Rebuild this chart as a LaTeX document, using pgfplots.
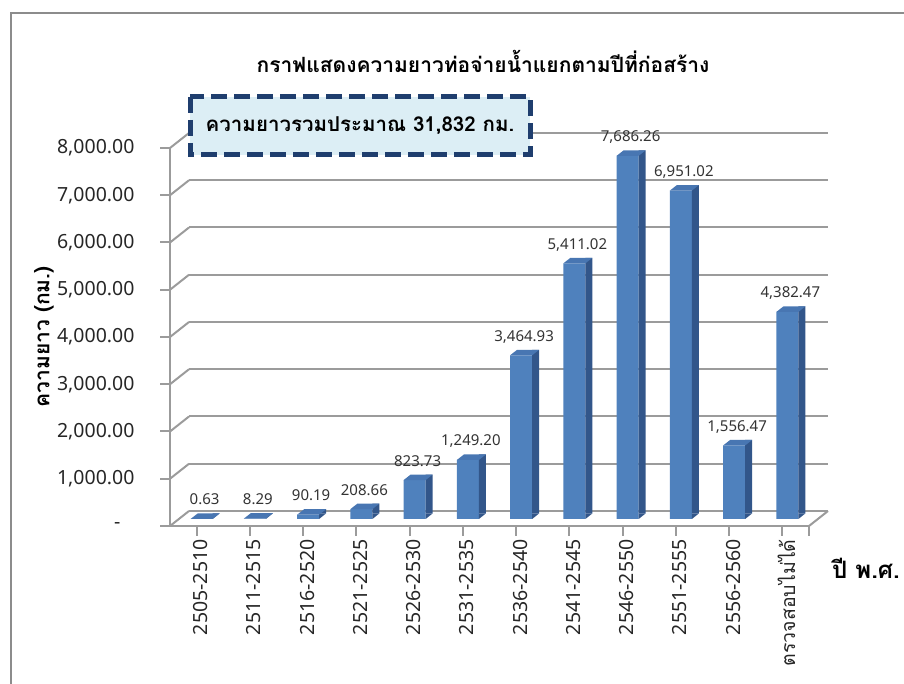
\documentclass[border=0pt]{standalone}
\usepackage{pgfplots}
\pgfplotsset{compat=1.18}
\usepackage{pgfplotstable}
\usepackage{fontspec}
\setmainfont{Noto Sans}
\newfontfamily\thai[Script=Thai]{Loma}
\definecolor{barfront}{RGB}{79,129,189}
\definecolor{barside}{RGB}{50,86,138}
\definecolor{bartop}{RGB}{72,118,178}
\definecolor{gridgray}{RGB}{155,155,155}
\definecolor{framegray}{RGB}{140,140,140}
\definecolor{boxfill}{RGB}{220,238,245}
\definecolor{boxdraw}{RGB}{31,62,110}
\pgfdeclareplotmark{bartopmark}{%
 \pgfpathmoveto{\pgfpoint{-11pt}{0pt}}\pgfpathlineto{\pgfpoint{11pt}{0pt}}%
 \pgfpathlineto{\pgfpoint{18pt}{5.5pt}}\pgfpathlineto{\pgfpoint{-4pt}{5.5pt}}%
 \pgfpathclose\pgfusepathqfill}
\pgfdeclareplotmark{barbasemark}{%
 \pgfpathmoveto{\pgfpoint{11pt}{0pt}}\pgfpathlineto{\pgfpoint{11pt}{5.6pt}}%
 \pgfpathlineto{\pgfpoint{18pt}{5.6pt}}\pgfpathclose\pgfusepathqfill}
\pgfplotstableread{
x y label
0 0.63 0.63
1 8.29 8.29
2 90.19 90.19
3 208.66 208.66
4 823.73 823.73
5 1249.20 1,249.20
6 3464.93 3,464.93
7 5411.02 5,411.02
8 7686.26 7,686.26
9 6951.02 6,951.02
10 1556.47 1,556.47
11 4382.47 4,382.47
}\datatable
\begin{document}
\begin{tikzpicture}
\path[use as bounding box] (0,0) rectangle (904pt,684pt);
\draw[framegray, line width=2pt] (11pt,0pt) -- (11pt,671pt) -- (904pt,671pt);
\begin{axis}[
 at={(170pt,158pt)}, anchor=south west,
 scale only axis, width=639pt, height=378pt,
 xmin=-0.5, xmax=11.5, ymin=0, ymax=8000,
 clip=false,
 axis lines=left,
 axis line style={-, draw=gridgray, line width=2pt},
 tick align=outside, major tick length=10pt,
 tick style={draw=gridgray, line width=2pt},
 ytick={0,1000,...,8000},
 yticklabels={{-\rule{14pt}{0pt}},{1,000.00},{2,000.00},{3,000.00},{4,000.00},{5,000.00},{6,000.00},{7,000.00},{8,000.00}},
 xtick={0,...,11},
 xticklabels={2505-2510,2511-2515,2516-2520,2521-2525,2526-2530,2531-2535,2536-2540,2541-2545,2546-2550,2551-2555,2556-2560,{\thai ตรวจสอบไม่ได้}},
 extra x ticks={11.5}, extra x tick labels={},
 yticklabel style={font=\fontsize{19.5}{20}\selectfont, anchor=east, xshift=-22pt, text=black!85},
 xticklabel style={font=\fontsize{19.5}{20}\selectfont, rotate=90, anchor=east, yshift=-4pt, text=black!85},
 ymajorgrids,
 major grid style={draw=gridgray, line width=2pt, xshift=19pt, yshift=15pt},
]
\pgfplotsinvokeforeach{0,1000,...,8000}{\draw[gridgray, line width=2pt] (axis cs:-0.5,#1) -- ++(19pt,15pt);}
\draw[gridgray, line width=2pt] (axis cs:11.5,0) -- ++(19pt,15pt);
% front faces
\addplot[ybar, bar width=22pt, bar shift=0pt, fill=barfront, draw=none, xshift=5pt, yshift=7pt] table[x=x,y=y] {\datatable};
% side faces
\addplot[ybar, bar width=7pt, bar shift=14.5pt, fill=barside, draw=none, xshift=5pt, yshift=12.5pt] table[x=x,y=y] {\datatable};
\addplot[only marks, color=barside, mark=barbasemark, mark options={fill=barside, draw=none}, xshift=5pt, yshift=7pt] table[x=x,y expr=0] {\datatable};
% top faces
\addplot[only marks, color=bartop, mark=bartopmark, mark options={fill=bartop, draw=none}, xshift=5pt, yshift=7pt] table[x=x,y=y] {\datatable};
% labels
\addplot[draw=none, mark=none, nodes near coords, point meta=explicit symbolic,
 every node near coord/.style={font=\fontsize{15}{15}\selectfont, anchor=base, xshift=8pt, yshift=21pt, inner sep=0pt, text=black!80}]
 table[x=x,y=y,meta=label] {\datatable};
\end{axis}
\node[font=\thai\bfseries\fontsize{21}{24}\selectfont] at (483pt,623pt) {กราฟแสดงความยาวท่อจ่ายน้ำแยกตามปีที่ก่อสร้าง};
\draw[boxdraw, fill=boxfill, line width=5pt, dash pattern=on 16pt off 7pt] (190pt,587pt) rectangle (530pt,529pt);
\node[font=\thai\bfseries\fontsize{20.5}{22}\selectfont] at (360pt,558pt) {ความยาวรวมประมาณ 31,832 กม.};
\node[font=\thai\bfseries\fontsize{21}{22}\selectfont, rotate=90] at (44pt,347pt) {ความยาว (กม.)};
\node[font=\thai\bfseries\fontsize{24}{26}\selectfont] at (866pt,116pt) {ปี พ.ศ.};
\end{tikzpicture}
\end{document}
